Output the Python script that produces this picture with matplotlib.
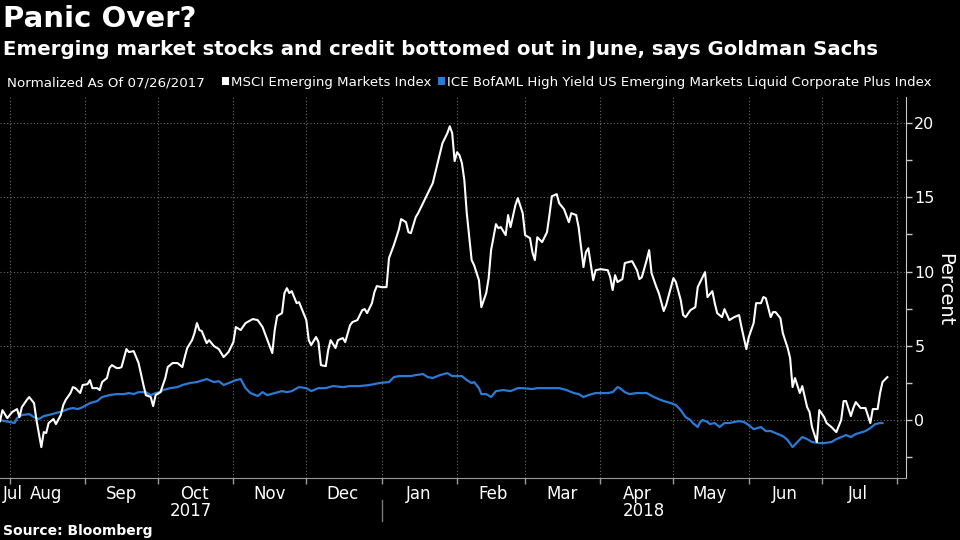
import pandas as pd
import matplotlib
matplotlib.use("Agg")
import matplotlib.pyplot as plt
import matplotlib.dates as mdates
import matplotlib.transforms as mtransforms
from matplotlib.patches import Rectangle
from matplotlib.ticker import MultipleLocator

# -----------------------------------------------------------------------------------------
# Data, day offsets counted from 2017-08-01, values in percent
# -----------------------------------------------------------------------------------------
base_date = pd.Timestamp("2017-08-01")

msci_days = [-4, -3, -1, 1, 3, 4, 5, 7, 8, 10,
             11, 13, 14, 15, 16, 18, 19, 21, 22, 23,
             25, 26, 27, 29, 30, 32, 33, 34, 36, 37,
             38, 40, 41, 42, 44, 45, 46, 48, 49, 51,
             52, 53, 55, 56, 58, 59, 60, 62, 64, 65,
             67, 69, 71, 72, 73, 75, 76, 77, 78, 79,
             81, 82, 84, 86, 88, 90, 92, 93, 95, 97,
             100, 102, 104, 106, 108, 109, 110, 112, 113, 114,
             115, 116, 118, 119, 120, 122, 123, 124, 126, 127,
             128, 130, 131, 132, 134, 135, 137, 138, 140, 141,
             143, 145, 146, 147, 149, 150, 151, 153, 155, 156,
             158, 160, 161, 163, 164, 165, 167, 168, 170, 172,
             174, 175, 177, 178, 180, 181, 182, 183, 184, 185,
             186, 187, 188, 190, 191, 193, 194, 196, 197, 198,
             200, 201, 202, 204, 205, 206, 208, 209, 211, 212,
             214, 215, 216, 217, 219, 221, 222, 223, 225, 226,
             228, 230, 231, 233, 234, 236, 237, 238, 240, 241,
             243, 246, 247, 248, 249, 250, 252, 253, 256, 258,
             259, 260, 262, 263, 264, 266, 267, 269, 270, 272,
             273, 274, 276, 277, 278, 280, 282, 283, 285, 286,
             287, 289, 290, 291, 293, 294, 296, 298, 300, 301,
             303, 304, 306, 307, 309, 310, 311, 313, 314, 315,
             317, 318, 320, 321, 322, 323, 325, 326, 328, 329,
             330, 332, 333, 335, 336, 338, 340, 342, 343, 344,
             346, 347, 348, 350, 352, 354, 355, 357, 358, 359, 361]
msci_values = [-0.07, 0.67, 0.13, 0.54, 0.74, 0.20, 0.87, 1.35, 1.55, 1.14,
               0.00, -1.82, -0.81, -0.87, -0.20, 0.07, -0.27, 0.34, 1.00, 1.35,
               1.82, 2.22, 2.15, 1.82, 2.36, 2.42, 2.69, 2.15, 2.15, 2.02,
               2.56, 2.83, 3.50, 3.70, 3.50, 3.50, 3.57, 4.78, 4.58, 4.64,
               4.24, 3.84, 2.36, 1.68, 1.55, 0.94, 1.68, 1.88, 2.83, 3.57,
               3.84, 3.84, 3.57, 4.24, 4.85, 5.38, 5.85, 6.53, 6.06, 5.99,
               5.18, 5.38, 4.98, 4.78, 4.24, 4.58, 5.25, 6.26, 6.06, 6.53,
               6.80, 6.73, 6.26, 5.38, 4.51, 6.06, 7.00, 7.20, 8.55, 8.88,
               8.55, 8.68, 7.87, 7.94, 7.54, 6.73, 5.38, 5.05, 5.59, 5.25,
               3.70, 3.63, 4.71, 5.38, 4.85, 5.38, 5.52, 5.25, 6.39, 6.60,
               6.73, 7.40, 7.47, 7.20, 7.87, 8.61, 9.02, 8.95, 8.95, 10.90,
               11.78, 12.79, 13.53, 13.32, 12.65, 12.58, 13.66, 13.93, 14.60, 15.28,
               15.95, 16.62, 17.97, 18.64, 19.31, 19.78, 19.31, 17.43, 18.03, 17.83,
               17.30, 16.15, 13.93, 10.77, 10.43, 9.42, 7.60, 8.55, 9.56, 11.44,
               13.19, 12.92, 12.99, 12.45, 13.80, 12.99, 14.47, 14.94, 13.93, 12.45,
               12.25, 11.30, 10.77, 12.31, 11.98, 12.65, 13.80, 15.07, 15.21, 14.60,
               14.20, 13.32, 13.93, 13.80, 12.99, 10.30, 11.30, 11.57, 9.42, 10.09,
               10.16, 10.09, 9.62, 8.75, 9.76, 9.29, 9.49, 10.57, 10.70, 10.09,
               9.49, 9.62, 10.77, 11.44, 9.89, 8.95, 8.55, 7.34, 7.74, 8.95,
               9.56, 9.29, 8.08, 7.07, 6.93, 7.40, 7.60, 8.95, 9.62, 9.96,
               8.28, 8.68, 7.87, 7.20, 6.93, 7.47, 6.73, 6.93, 7.07, 6.26,
               4.78, 5.59, 6.53, 7.87, 7.87, 8.28, 8.21, 6.93, 7.27, 7.27,
               6.86, 5.85, 4.85, 4.17, 2.22, 2.83, 1.82, 2.29, 0.87, 0.54,
               -0.47, -1.48, 0.67, 0.20, -0.20, -0.47, -0.81, 0.00, 1.28, 1.28,
               0.27, 0.81, 1.21, 0.81, 0.81, -0.20, 0.74, 0.74, 1.82, 2.56, 2.89]

ice_days = [-4, -2, 0, 2, 3, 5, 8, 10, 12, 14,
            16, 19, 22, 24, 26, 28, 30, 33, 36, 38,
            41, 44, 47, 49, 51, 53, 56, 58, 60, 62,
            63, 66, 69, 71, 74, 77, 81, 84, 86, 88,
            91, 93, 95, 97, 99, 102, 104, 106, 109, 112,
            114, 116, 119, 122, 124, 127, 130, 133, 137, 140,
            144, 148, 152, 156, 158, 160, 165, 167, 170, 172,
            174, 177, 180, 182, 186, 188, 190, 191, 193, 194,
            196, 198, 200, 203, 206, 209, 211, 215, 217, 220,
            226, 229, 232, 234, 236, 238, 241, 246, 248, 250,
            251, 253, 255, 258, 262, 265, 267, 269, 272, 274,
            276, 278, 280, 281, 283, 284, 285, 287, 288, 290,
            292, 294, 296, 298, 300, 302, 304, 306, 309, 311,
            313, 316, 318, 320, 322, 324, 326, 328, 330, 333,
            335, 338, 340, 344, 346, 348, 352, 354, 356, 358, 359]
ice_values = [0.00, -0.07, -0.13, -0.20, 0.13, 0.34, 0.40, 0.20, 0.07, 0.27,
              0.34, 0.47, 0.61, 0.74, 0.81, 0.74, 0.87, 1.14, 1.28, 1.55,
              1.68, 1.75, 1.75, 1.82, 1.75, 1.88, 1.88, 1.68, 1.82, 1.88,
              2.02, 2.15, 2.22, 2.36, 2.49, 2.56, 2.76, 2.56, 2.62, 2.36,
              2.56, 2.69, 2.76, 2.15, 1.82, 1.62, 1.88, 1.68, 1.82, 1.95,
              1.88, 1.95, 2.22, 2.15, 1.95, 2.15, 2.15, 2.29, 2.22, 2.29,
              2.29, 2.36, 2.49, 2.56, 2.89, 2.96, 2.96, 3.03, 3.10, 2.89,
              2.83, 3.03, 3.16, 2.96, 2.96, 2.69, 2.49, 2.56, 2.15, 1.75,
              1.75, 1.55, 1.95, 2.02, 1.95, 2.15, 2.15, 2.09, 2.15, 2.15,
              2.15, 2.02, 1.82, 1.75, 1.55, 1.68, 1.82, 1.82, 1.88, 2.22,
              2.15, 1.88, 1.75, 1.82, 1.82, 1.55, 1.41, 1.28, 1.14, 1.01,
              0.67, 0.20, 0.00, -0.20, -0.47, -0.13, 0.00, -0.13, -0.27, -0.20,
              -0.47, -0.20, -0.20, -0.13, -0.07, -0.13, -0.34, -0.61, -0.47, -0.74,
              -0.74, -0.94, -1.08, -1.35, -1.82, -1.48, -1.14, -1.28, -1.48, -1.55,
              -1.55, -1.48, -1.28, -1.01, -1.14, -0.94, -0.74, -0.54, -0.27, -0.20, -0.20]

title = "Panic Over?"
subtitle = "Emerging market stocks and credit bottomed out in June, says Goldman Sachs"
note = "Normalized As Of 07/26/2017"
msci_name = "MSCI Emerging Markets Index"
ice_name = "ICE BofAML High Yield US Emerging Markets Liquid Corporate Plus Index"
source = "Source: Bloomberg"

msci_dates = base_date + pd.to_timedelta(msci_days, unit="D")
ice_dates = base_date + pd.to_timedelta(ice_days, unit="D")

# -----------------------------------------------------------------------------------------
# Figure
# -----------------------------------------------------------------------------------------
white = "#ffffff"
blue = "#2a7ad6"
axis_gray = "#9a9a9a"

fig = plt.figure(figsize=(9.6, 5.4), dpi=100, facecolor="black")
ax = fig.add_axes([0.0, 62 / 540, 906 / 960, 381 / 540])
ax.set_facecolor("black")

ax.plot(ice_dates, ice_values, color=blue, linewidth=1.6, zorder=3)
ax.plot(msci_dates, msci_values, color=white, linewidth=1.5, zorder=4)

ax.set_xlim(pd.Timestamp("2017-07-28"), pd.Timestamp("2018-08-04 16:00"))
ax.set_ylim(-3.9, 21.75)

# spines
for side in ["left", "top"]:
    ax.spines[side].set_visible(False)
ax.spines["right"].set_color("#c8c8c8")
ax.spines["bottom"].set_color(axis_gray)

# y axis on the right
ax.yaxis.tick_right()
ax.yaxis.set_major_locator(MultipleLocator(5))
ax.yaxis.set_minor_locator(MultipleLocator(2.5))
ax.tick_params(axis="y", which="both", colors="#c8c8c8", labelcolor=white,
               labelsize=11.5, length=4, width=1, direction="out", pad=2)

# x axis: month boundaries as ticks, month names in the middle
ax.xaxis.set_major_locator(mdates.MonthLocator())
ax.xaxis.set_major_formatter(plt.NullFormatter())
mid_months = [pd.Timestamp("2017-07-29")] + list(pd.date_range("2017-08-01", "2018-07-01", freq="MS") + pd.Timedelta(days=15))
ax.xaxis.set_minor_locator(plt.FixedLocator(mdates.date2num(mid_months)))
ax.xaxis.set_minor_formatter(mdates.DateFormatter("%b"))
ax.tick_params(axis="x", which="major", colors=axis_gray, length=4, width=1, direction="out")
ax.tick_params(axis="x", which="minor", length=0, labelcolor=white, labelsize=12, pad=5)
ax.get_xticklabels(minor=True)[0].set_horizontalalignment("left")

ax.grid(True, which="major", color="#6a6a6a", linestyle=(0, (1, 2)), linewidth=0.8)
ax.set_axisbelow(True)

# year labels and separator
blend = mtransforms.blended_transform_factory(ax.transData, fig.transFigure)
x_left, x_right = ax.get_xlim()
year_split = mdates.date2num(pd.Timestamp("2018-01-01"))
ax.text((x_left + year_split) / 2, 1 - 511 / 540, "2017", transform=blend,
        ha="center", va="center", color=white, fontsize=12)
ax.text((year_split + x_right) / 2, 1 - 511 / 540, "2018", transform=blend,
        ha="center", va="center", color=white, fontsize=12)
ax.plot([year_split, year_split], [1 - 500 / 540, 1 - 521 / 540], transform=blend,
        color="#777777", linewidth=1, clip_on=False)

# axis label
fig.text(945 / 960, 1 - 290 / 540, "Percent", rotation=270, ha="center", va="center",
         color=white, fontsize=14)

# titles
fig.text(3 / 960, 1 - 27 / 540, title, color=white, fontsize=21, fontweight="bold", va="baseline")
fig.text(3 / 960, 1 - 55 / 540, subtitle, color=white, fontsize=14.2, fontweight="bold", va="baseline")

# legend row
legend_y = 1 - 86 / 540
fig.text(7 / 960, legend_y, note, color=white, fontsize=9.6, va="baseline")
fig.patches.append(Rectangle((222 / 960, 1 - 85 / 540), 7 / 960, 8 / 540,
                             transform=fig.transFigure, facecolor=white, edgecolor="none"))
fig.text(231 / 960, legend_y, msci_name, color=white, fontsize=9.6, va="baseline")
fig.patches.append(Rectangle((438 / 960, 1 - 85 / 540), 7 / 960, 8 / 540,
                             transform=fig.transFigure, facecolor=blue, edgecolor="none"))
fig.text(447 / 960, legend_y, ice_name, color=white, fontsize=9.6, va="baseline")

fig.text(3 / 960, 1 - 535 / 540, source, color=white, fontsize=10, fontweight="bold", va="baseline")

fig.savefig("out.png", dpi=100, facecolor="black")
